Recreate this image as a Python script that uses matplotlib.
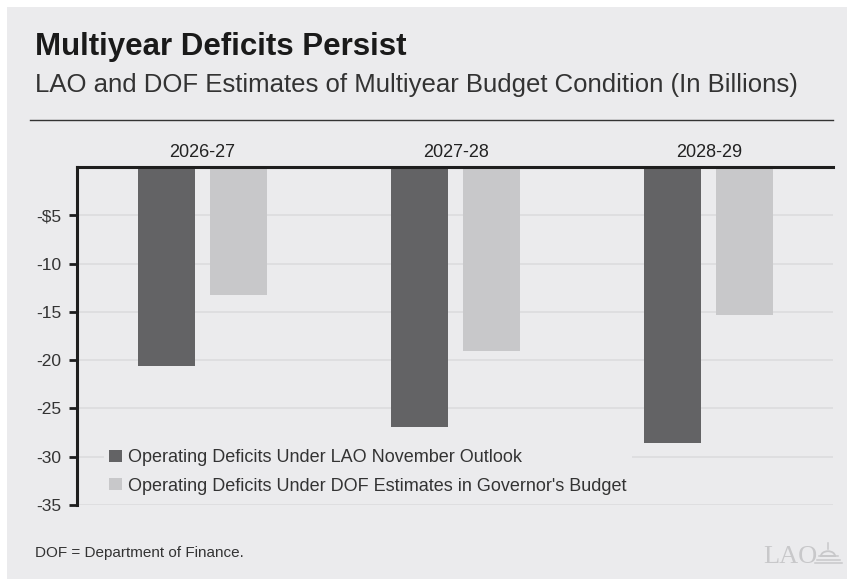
import matplotlib
matplotlib.use("Agg")
import matplotlib.pyplot as plt
import numpy as np
from matplotlib.patches import Rectangle, Wedge
from matplotlib.lines import Line2D

categories = ["2026-27", "2027-28", "2028-29"]
lao_values = [-20.6, -26.9, -28.6]
dof_values = [-13.3, -19.1, -15.35]
series_names = ["Operating Deficits Under LAO November Outlook",
                "Operating Deficits Under DOF Estimates in Governor's Budget"]
y_ticks = [-5, -10, -15, -20, -25, -30, -35]
y_tick_labels = ["-$5", "-10", "-15", "-20", "-25", "-30", "-35"]

BG = "#EBEBED"
DARK = "#636365"
LIGHT = "#C8C8CA"
GRID = "#DCDCDE"
AXC = "#1E1E1E"
TXT = "#333333"
LOGO = "#C8C8CA"

W, H = 847, 579
fig = plt.figure(figsize=(W / 100, H / 100), dpi=100)
fig.patch.set_facecolor("white")
fig.patches.append(Rectangle((7 / W, 0), 1 - 7 / W, 1 - 7 / H, transform=fig.transFigure,
                             facecolor=BG, edgecolor="none", zorder=-10))

fam = ["Liberation Sans", "DejaVu Sans"]

fig.text(35 / W, 1 - 55 / H, "Multiyear Deficits Persist", fontsize=22.5, fontweight="bold",
         color="#1a1a1a", family=fam, va="baseline")
fig.text(35 / W, 1 - 92 / H, "LAO and DOF Estimates of Multiyear Budget Condition (In Billions)",
         fontsize=18.5, color=TXT, family=fam, va="baseline")
fig.add_artist(Line2D([30 / W, 833 / W], [1 - 120 / H, 1 - 120 / H], color="#333333", lw=1.0,
                      transform=fig.transFigure))

ax = fig.add_axes([77 / W, 1 - 505 / H, (833 - 77) / W, (505 - 167) / H])
ax.set_facecolor("none")
x = np.arange(len(categories))
bw = 0.225
off = 0.142
ax.bar(x - off, lao_values, bw, color=DARK, zorder=3, label=series_names[0])
ax.bar(x + off, dof_values, bw, color=LIGHT, zorder=3, label=series_names[1])
ax.set_xlim(-0.495, 2.49)
ax.set_ylim(-35, 0)

for t in y_ticks:
    ax.axhline(t, color=GRID, lw=1.2, zorder=1)

ax.set_yticks(y_ticks)
ax.set_yticklabels(y_tick_labels, family=fam, fontsize=12.5, color=TXT)
ax.tick_params(axis="y", length=6, width=2, color=AXC, pad=5)

ax.xaxis.tick_top()
ax.set_xticks(x)
ax.set_xticklabels(categories, family=fam, fontsize=13, color="#222222")
ax.tick_params(axis="x", length=0, pad=4)

for s in ["right", "bottom"]:
    ax.spines[s].set_visible(False)
ax.spines["left"].set_linewidth(2.2)
ax.spines["left"].set_color(AXC)
ax.spines["top"].set_linewidth(2.2)
ax.spines["top"].set_color(AXC)
ax.spines["top"].set_zorder(5)

leg = ax.legend(loc="upper left", bbox_to_anchor=(27 / 756, 1 - (444 - 167) / 338),
                frameon=True, facecolor=BG, edgecolor="none", framealpha=1,
                prop={"family": fam, "size": 13}, handlelength=0.67, handleheight=0.67,
                handletextpad=0.35, labelspacing=0.62, borderpad=0.3, borderaxespad=0)
for t in leg.get_texts():
    t.set_color(TXT)

fig.text(35 / W, 1 - 557 / H, "DOF = Department of Finance.", fontsize=11, color=TXT,
         family=fam, va="baseline")
fig.text(817 / W, 1 - 563 / H, "LAO", fontsize=19, color=LOGO, family=["Liberation Serif"],
         ha="right", va="baseline")
# small capitol-dome emblem of the logo
fig.patches.append(Wedge((828 / W, 1 - 556 / H), 7 / W, 0, 180, transform=fig.transFigure,
                         facecolor="none", edgecolor=LOGO, lw=1.3))
for yy, x0, x1 in [(556, 819, 838), (560, 817, 840), (563, 815, 842)]:
    fig.add_artist(Line2D([x0 / W, x1 / W], [1 - yy / H, 1 - yy / H], color=LOGO, lw=1.1,
                          transform=fig.transFigure))
fig.add_artist(Line2D([828 / W, 828 / W], [1 - 549 / H, 1 - 543 / H], color=LOGO, lw=1.1,
                      transform=fig.transFigure))

fig.savefig("out.png", dpi=100, facecolor=fig.get_facecolor())
